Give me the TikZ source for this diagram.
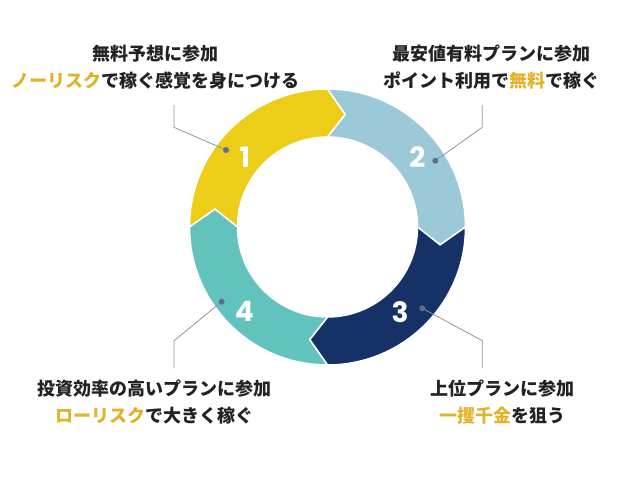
\documentclass[tikz,border=0pt]{standalone}
\usepackage{fontspec}
\newfontfamily\cjk{Noto Sans CJK JP}
\newfontfamily\numfont{Poppins}
\definecolor{segyellow}{HTML}{ECCD18}
\definecolor{segblue}{HTML}{9BC9D7}
\definecolor{segnavy}{HTML}{163166}
\definecolor{segteal}{HTML}{62C3BE}
\definecolor{goldtxt}{HTML}{E3B22B}
\definecolor{darktxt}{HTML}{222222}
\definecolor{dotcol}{HTML}{5E6F8E}
\definecolor{leadcol}{HTML}{8C94AD}
\tikzset{
  seg/.style={draw=white, line width=1.5pt, line join=miter},
  numlabel/.style={text=white, font=\numfont\bfseries\fontsize{28}{28}\selectfont, inner sep=0pt},
  caption/.style={text=darktxt, align=center, inner sep=0pt, font=\cjk\bfseries\fontsize{18}{27}\selectfont},
  leader/.style={draw=leadcol, line width=0.8pt},
  dotmark/.style={fill=dotcol}
}
\newcommand{\hl}[1]{\textcolor{goldtxt}{#1}}
\begin{document}
\begin{tikzpicture}[x=1pt,y=1pt]
\useasboundingbox (0,0) rectangle (640,480);
\fill[white] (0,0) rectangle (640,480);
\coordinate (C) at (327.5,253);
\foreach \s/\col in {180/segyellow, 90/segblue, 0/segnavy, -90/segteal}{
  \pgfmathsetmacro{\e}{\s-90}
  \pgfmathsetmacro{\et}{\s-99}
  \pgfmathsetmacro{\st}{\s-9}
  \filldraw[seg, fill=\col] ([shift={(C)}]\s:138) arc[start angle=\s, end angle=\e, radius=138]
    -- ([shift={(C)}]\et:114) -- ([shift={(C)}]\e:90)
    arc[start angle=\e, end angle=\s, radius=90]
    -- ([shift={(C)}]\st:114) -- cycle;
}
% numbers
\node[numlabel] (n1) at (245,322.7) {1};
\node[numlabel] (n2) at (417.3,322.7) {2};
\node[numlabel] (n3) at (400,168.3) {3};
\node[numlabel] (n4) at (244.3,168.3) {4};
% dots
\coordinate (d1) at (226,330);
\coordinate (d2) at (435.3,319.3);
\coordinate (d3) at (422.3,171.7);
\coordinate (d4) at (221.7,178.3);
% leader line ends
\coordinate (k1) at (174,352.7);
\coordinate (e1) at (174,375);
\coordinate (k2) at (482.3,352.7);
\coordinate (e2) at (482.3,375);
\coordinate (k3) at (482.3,139.3);
\coordinate (e3) at (482.3,111.7);
\coordinate (k4) at (174,139.3);
\coordinate (e4) at (174,111.7);
\draw[leader] (d1) -- (k1) -- (e1);
\draw[leader] (d2) -- (k2) -- (e2);
\draw[leader] (d3) -- (k3) -- (e3);
\draw[leader] (d4) -- (k4) -- (e4);
\foreach \d in {d1,d2,d3,d4}{\fill[dotmark] (\d) circle[radius=3];}
% captions
\node[caption] (t1) at (155.5,413.3) {無料予想に参加\\\hl{ノーリスク}で稼ぐ感覚を身につける};
\node[caption] (t2) at (491.5,413.3) {最安値有料プランに参加\\ポイント利用で\hl{無料}で稼ぐ};
\node[caption] (t4) at (154,77.5) {投資効率の高いプランに参加\\\hl{ローリスク}で大きく稼ぐ};
\node[caption] (t3) at (502.5,77.5) {上位プランに参加\\\hl{一攫千金}を狙う};
\end{tikzpicture}
\end{document}
